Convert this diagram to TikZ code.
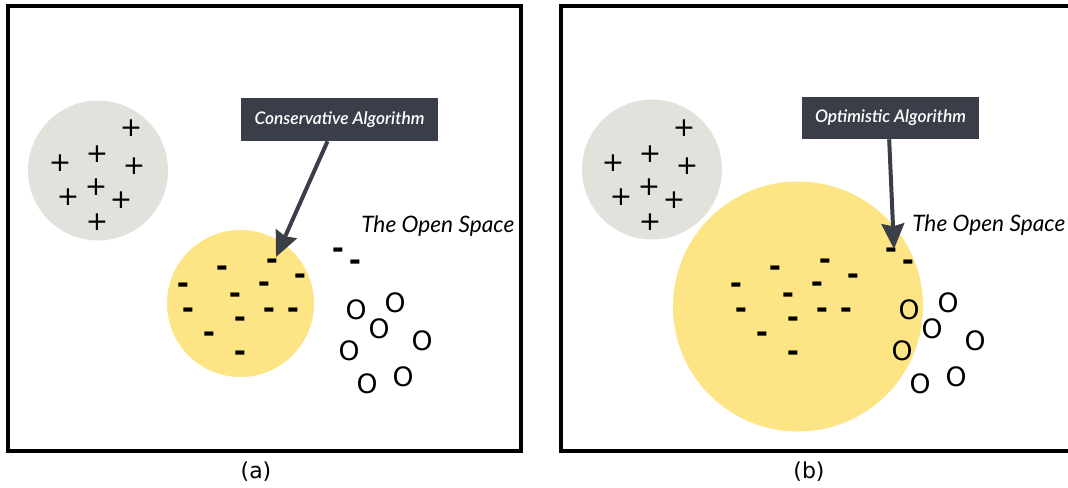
\documentclass[tikz,border=0pt]{standalone}
\usepackage{fontspec}
\usepackage{tikz}
\usetikzlibrary{shapes,positioning,arrows.meta}
\setmainfont{DejaVu Sans}
\newfontfamily\italfont{Lato}
\newfontfamily\semifont{Lato Semibold}

\definecolor{clustergray}{HTML}{E2E2DC}
\definecolor{clusteryellow}{HTML}{FDE484}
\definecolor{labeldark}{HTML}{393E48}

\tikzset{
  panel/.style={draw=black, line width=2.3pt},
  plusmark/.style={inner sep=0pt, font=\fontsize{20}{20}\selectfont},
  minusmark/.style={inner sep=0pt, font=\fontsize{22}{22}\selectfont\bfseries},
  omark/.style={inner sep=0pt, font=\fontsize{20}{20}\selectfont},
  algbox/.style={fill=labeldark, text=white, inner sep=0pt,
    font=\semifont\itshape\fontsize{13}{13}\selectfont},
  spacelabel/.style={inner sep=0pt, anchor=west, font=\italfont\itshape\fontsize{17}{17}\selectfont},
  caption/.style={inner sep=0pt, font=\fontsize{16.5}{16.5}\selectfont},
  pointer/.style={draw=labeldark, line width=3pt,
    -{Stealth[length=19pt, width=17pt, inset=2pt]}}
}

% the same points in both panels
\newcommand{\drawmarks}[1]{%
  \foreach \x/\y [count=\i] in {131/128, 97/154, 60/163, 134/166, 96/187, 68/197, 121/200, 97/222}
    \node (#1plus\i) [plusmark] at (\x,\y) {+};
  \foreach \x/\y [count=\i] in {272/264, 222/271, 183/288, 264/287, 300/279, 235/298, 188/313,
      240/322, 269/313, 293/313, 209/337, 240/356, 338/253, 355/265}
    \node (#1minus\i) [minusmark] at (\x,\y) {-};
  \foreach \x/\y [count=\i] in {356/310, 395/303, 379/329, 349/351, 422/341, 367/384, 403/377}
    \node (#1o\i) [omark] at (\x,\y) {O};
}

\begin{document}
\begin{tikzpicture}[x=0.75pt, y=-0.75pt]
  \useasboundingbox (0,0) rectangle (1068,487);
  \clip (0,0) rectangle (1068,487);

  % (a) conservative
  \draw[panel] (8,6) rectangle (521,451);
  \node (grayA) [circle, fill=clustergray, minimum size=105pt, inner sep=0pt] at (98,170.5) {};
  \node (yellowA) [circle, fill=clusteryellow, minimum size=110.25pt, inner sep=0pt] at (240.5,303.5) {};
  \drawmarks{a}
  \node (spaceA) [spacelabel] at (361,226) {The Open Space};
  \node (consbox) [algbox, minimum width=147.75pt, minimum height=32.25pt] at (339.5,119.5) {Conservative Algorithm};
  \coordinate (consend) at (276,257);
  \draw[pointer] ([xshift=-9pt]consbox.south) -- (consend);
  \node (capA) [caption] at (256,472) {(a)};

  % (b) optimistic
  \draw[panel] (561,6) rectangle (1085,451);
  \node (grayB) [circle, fill=clustergray, minimum size=105pt, inner sep=0pt] at (652,169.5) {};
  \node (yellowB) [circle, fill=clusteryellow, minimum size=187.5pt, inner sep=0pt] at (798,306.5) {};
  \begin{scope}[xshift=414.75pt]
    \drawmarks{b}
  \end{scope}
  \node (spaceB) [spacelabel] at (912,225) {The Open Space};
  \node (optbox) [algbox, minimum width=132.75pt, minimum height=31.5pt] at (890.5,118) {Optimistic Algorithm};
  \coordinate (optend) at (894,249);
  \draw[pointer] ([xshift=-1pt]optbox.south) -- (optend);
  \node (capB) [caption] at (809,472) {(b)};
\end{tikzpicture}
\end{document}
